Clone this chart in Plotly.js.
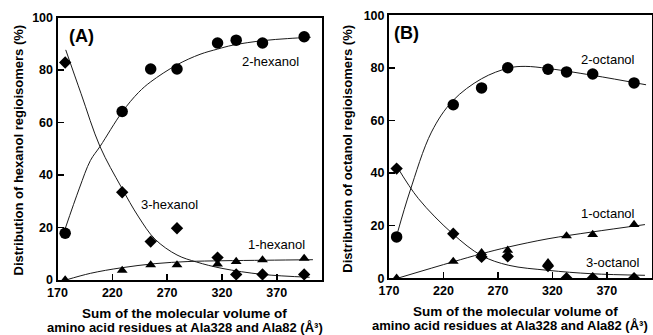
<!DOCTYPE html>
<html>
<head>
<meta charset="utf-8">
<script src="https://cdn.plot.ly/plotly-3.0.1.min.js"></script>
<style>html,body{margin:0;padding:0;background:#fff;}#chart{width:653px;height:335px;}</style>
</head>
<body>
<div id="chart"></div>
<script>
// Sum of molecular volume (Å^3) for each variant
const volumes = [177, 229, 255, 279, 316, 333, 357, 395];

// Panel A: hexanol regioisomers (%)
const hex2 = [17.8, 64.2, 80.4, 80.4, 90.3, 91.4, 90.3, 92.7];
const hex3 = [82.9, 33.4, 14.6, 19.7, 8.5, 2.1, 2.1, 2.1];
const hex1 = [0.0, 3.6, 5.7, 5.7, 6.0, 7.0, 7.6, 8.2];

// Panel B: octanol regioisomers (%)
const oct2 = [15.7, 66.0, 72.4, 80.1, 79.5, 78.5, 77.7, 74.3];
const oct3 = [41.7, 16.9, 8.1, 8.3, 4.6, 0.0, 0.0, 0.0];
const oct1 = [0.0, 6.4, 9.7, 10.6, 5.9, 16.1, 16.6, 20.4];

// Fitted curves
const hex2CurveX = [177, 190, 200, 209, 229, 244, 255, 279, 300, 316, 330, 357, 380, 401];
const hex2CurveY = [19.5, 35, 45.5, 51, 64, 71.5, 75.5, 82, 86, 88, 89.5, 91.2, 92, 92.5];
const hex3CurveX = [177.5, 191.5, 208.8, 228, 244, 259, 279, 297, 320, 357, 400];
const hex3CurveY = [87.7, 71, 50.8, 35.5, 24, 15.5, 9.5, 6.8, 4.4, 2.1, 1.0];
const hex1CurveX = [178, 200, 228, 259, 289, 320, 360, 403];
const hex1CurveY = [0, 2.5, 4.6, 6.2, 7.0, 7.3, 7.5, 7.7];

const oct2CurveX = [178, 189, 209, 228.5, 255, 280, 295, 316, 357, 406];
const oct2CurveY = [17.6, 32.8, 55.6, 67.5, 75.9, 80.0, 80.6, 79.8, 77.2, 73.6];
const oct3CurveX = [177.6, 197, 228.5, 255, 280, 316, 356, 405];
const oct3CurveY = [42.3, 30.3, 16.9, 8.6, 4.9, 3.0, 1.7, 1.1];
const oct1CurveX = [178, 228.5, 255, 280, 316, 356.6, 405];
const oct1CurveY = [0, 6.2, 9.3, 11.9, 15.0, 17.6, 20.4];

const xTicks = [170, 220, 270, 320, 370];
const yTicks = [0, 20, 40, 60, 80, 100];

const xTitle1 = 'Sum of the molecular volume of';
const xTitle2 = 'amino acid residues at Ala328 and Ala82 (Å³)';

const FONT = "Liberation Sans, Arial, sans-serif";
const W = 653, H = 335;

function curve(x, y, xa, ya) {
  return {x: x, y: y, xaxis: xa, yaxis: ya, mode: 'lines', type: 'scatter',
    line: {color: '#1a1a1a', width: 1, shape: 'spline', smoothing: 1}, hoverinfo: 'skip', showlegend: false};
}
function pts(y, sym, size, xa, ya) {
  return {x: volumes, y: y, xaxis: xa, yaxis: ya, mode: 'markers', type: 'scatter',
    marker: {symbol: sym, size: size, color: '#000', line: {width: 0}}, showlegend: false};
}

const traces = [
  curve(hex2CurveX, hex2CurveY, 'x', 'y'),
  curve(hex3CurveX, hex3CurveY, 'x', 'y'),
  curve(hex1CurveX, hex1CurveY, 'x', 'y'),
  pts(hex2, 'circle', 11.5, 'x', 'y'),
  pts(hex3, 'diamond', 9.5, 'x', 'y'),
  pts(hex1, 'triangle-up', 9.5, 'x', 'y'),
  curve(oct2CurveX, oct2CurveY, 'x2', 'y2'),
  curve(oct3CurveX, oct3CurveY, 'x2', 'y2'),
  curve(oct1CurveX, oct1CurveY, 'x2', 'y2'),
  pts(oct2, 'circle', 11.5, 'x2', 'y2'),
  pts(oct3, 'diamond', 9.5, 'x2', 'y2'),
  pts(oct1, 'triangle-up', 9.5, 'x2', 'y2')
];

function xax(dom, anchor) {
  return {domain: dom, anchor: anchor, range: [170, 411], tickvals: xTicks,
    ticks: 'inside', ticklen: 6, tickwidth: 1.5, tickcolor: '#000',
    showline: true, linewidth: 2, linecolor: '#000', mirror: true,
    showgrid: false, zeroline: false, automargin: false,
    tickfont: {family: FONT, size: 12.5, color: '#000', weight: 'bold'}};
}
function yax(dom, anchor) {
  return {domain: dom, anchor: anchor, range: [0, 100], tickvals: yTicks,
    ticks: 'inside', ticklen: 6, tickwidth: 1.5, tickcolor: '#000',
    showline: true, linewidth: 2, linecolor: '#000', mirror: true,
    showgrid: false, zeroline: false, automargin: false,
    tickfont: {family: FONT, size: 12.5, color: '#000', weight: 'bold'}};
}

function px(v) { return v / W; }
function py(v) { return (H - v) / H; }

const lbl = {family: FONT, size: 13, color: '#000'};
const yT = {family: FONT, size: 13, color: '#000', weight: 'bold'};
const xT1 = {family: FONT, size: 13.5, color: '#000', weight: 'bold'};
const xT2 = {family: FONT, size: 13, color: '#000', weight: 'bold'};

function ann(o) {
  return Object.assign({showarrow: false, xanchor: 'center', yanchor: 'middle'}, o);
}

const annotations = [
  ann({xref: 'x', yref: 'y', x: 364, y: 83.3, text: '2-hexanol', font: lbl}),
  ann({xref: 'x', yref: 'y', x: 272.6, y: 28.6, text: '3-hexanol', font: lbl}),
  ann({xref: 'x', yref: 'y', x: 370, y: 13.6, text: '1-hexanol', font: lbl}),
  ann({xref: 'x2', yref: 'y2', x: 370.8, y: 83.3, text: '2-octanol', font: lbl}),
  ann({xref: 'x2', yref: 'y2', x: 370.8, y: 24.5, text: '1-octanol', font: lbl}),
  ann({xref: 'x2', yref: 'y2', x: 376, y: 5.9, text: '3-octanol', font: lbl}),
  ann({xref: 'paper', yref: 'paper', x: px(81.7), y: py(35.7), text: '(A)',
    font: {family: FONT, size: 18, color: '#000', weight: 'bold'}}),
  ann({xref: 'paper', yref: 'paper', x: px(406.7), y: py(32.7), text: '(B)',
    font: {family: FONT, size: 18, color: '#000', weight: 'bold'}}),
  ann({xref: 'paper', yref: 'paper', x: px(17.5), y: py(150), textangle: -90,
    text: 'Distribution of hexanol regioisomers (%)', font: yT}),
  ann({xref: 'paper', yref: 'paper', x: px(346.7), y: py(149), textangle: -90,
    text: 'Distribution of octanol regioisomers (%)', font: yT}),
  ann({xref: 'paper', yref: 'paper', x: px(184), y: py(313.5), text: xTitle1, font: xT1}),
  ann({xref: 'paper', yref: 'paper', x: px(185), y: py(327.5), text: xTitle2, font: xT2}),
  ann({xref: 'paper', yref: 'paper', x: px(515), y: py(311.5), text: xTitle1, font: xT1}),
  ann({xref: 'paper', yref: 'paper', x: px(510), y: py(325.5), text: xTitle2, font: xT2})
];

const layout = {
  width: W, height: H,
  margin: {l: 0, r: 0, t: 0, b: 0, pad: 0},
  paper_bgcolor: '#fff', plot_bgcolor: '#fff',
  showlegend: false,
  xaxis: xax([px(57.5), px(321.7)], 'y'),
  yaxis: yax([py(279.9), py(17.6)], 'x'),
  xaxis2: xax([px(389), px(651.5)], 'y2'),
  yaxis2: yax([py(278.2), py(15.4)], 'x2'),
  annotations: annotations
};

Plotly.newPlot('chart', traces, layout, {displayModeBar: false, staticPlot: true});
</script>
</body>
</html>
